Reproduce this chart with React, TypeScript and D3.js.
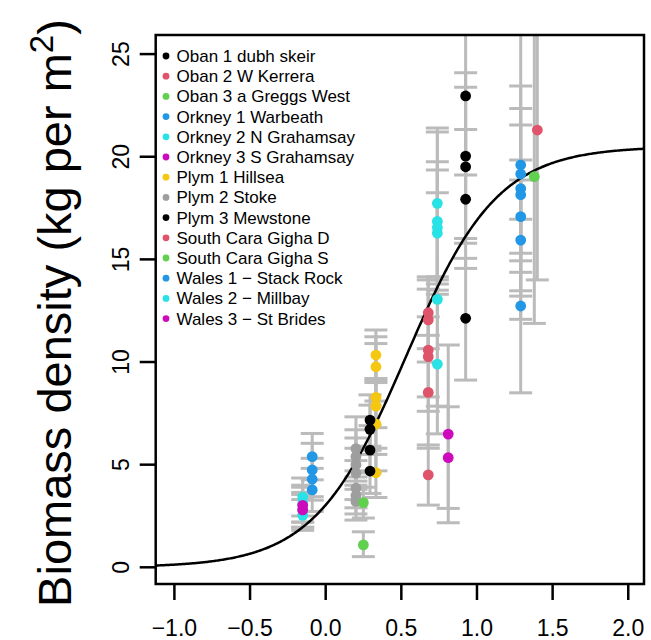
import React from 'react';
import * as d3 from 'd3';

const siteNames = [
  'Oban 1 dubh skeir', 'Oban 2 W Kerrera', 'Oban 3 a Greggs West',
  'Orkney 1 Warbeath', 'Orkney 2 N Grahamsay', 'Orkney 3 S Grahamsay',
  'Plym 1 Hillsea', 'Plym 2 Stoke', 'Plym 3 Mewstone',
  'South Cara Gigha D', 'South Cara Gigha S',
  'Wales 1 \u2212 Stack Rock', 'Wales 2 \u2212 Millbay', 'Wales 3 \u2212 St Brides',
];
const siteColors = [
  '#000000', '#DF536B', '#61D04F', '#2297E6', '#28E2E5', '#CD0BBC', '#F5C710',
  '#9E9E9E', '#000000', '#DF536B', '#61D04F', '#2297E6', '#28E2E5', '#CD0BBC',
];
const siteX = [0.925, 1.399, 1.379, -0.089, -0.152, -0.152, 0.332, 0.2, 0.293, 0.678, 0.249, 1.289, 0.738, 0.81];
const siteY = [
  [22.96, 20.03, 19.51, 17.93, 12.13],
  [21.3],
  [19.03],
  [5.39, 4.74, 4.29, 3.77],
  [3.42, 3.1, 2.8, 2.53],
  [3.02, 2.8],
  [10.34, 9.77, 8.28, 7.85, 6.98, 4.61],
  [5.78, 5.4, 5.0, 4.59, 3.86, 3.5, 3.21],
  [7.17, 6.72, 5.71, 4.69],
  [12.4, 12.05, 10.58, 10.26, 8.52, 4.5],
  [3.15, 1.09],
  [19.6, 19.16, 18.45, 18.15, 17.08, 15.94, 12.73],
  [17.73, 16.85, 16.55, 16.28, 13.05, 9.9],
  [6.49, 5.34],
];
const siteLo = [
  [19.11, 16.02, 15.78, 14.56, 9.12],
  [14.0],
  [11.88],
  [4.26, 3.44, 3.27, 2.72],
  [2.5, 2.2, 1.95, 1.8],
  [2.2, 1.95],
  [9.1, 8.1, 5.5, 6.8, 4.7, 3.4],
  [4.4, 4.2, 3.8, 3.3, 2.9, 2.6, 2.3],
  [5.9, 5.5, 4.6, 3.6],
  [10.65, 10.0, 7.6, 8.3, 5.8, 3.03],
  [2.4, 0.52],
  [13.21, 14.93, 14.37, 13.47, 15.3, 12.08, 8.5],
  [14.0, 13.8, 13.5, 14.15, 7.85, 6.5],
  [2.17, 2.87],
];
const siteHi = [
  [26.8, 24.09, 23.38, 21.33, 15.05],
  [28.6],
  [26.2],
  [6.52, 6.04, 5.31, 4.82],
  [4.35, 4.0, 3.65, 3.3],
  [3.9, 3.55],
  [11.56, 11.23, 10.9, 9.0, 9.2, 5.8],
  [7.33, 6.7, 6.3, 5.8, 5.2, 4.7, 4.0],
  [8.4, 7.9, 6.9, 5.7],
  [14.15, 14.0, 13.55, 12.2, 11.3, 5.96],
  [3.9, 1.73],
  [26.0, 23.44, 22.35, 21.54, 18.87, 19.84, 16.95],
  [21.4, 21.2, 19.75, 19.35, 18.25, 13.3],
  [10.83, 7.82],
];
const xTicks = [-1.0, -0.5, 0.0, 0.5, 1.0, 1.5, 2.0];
const yTicks = [0, 5, 10, 15, 20, 25];
// fitted logistic curve parameters
const curveL = 20.5;
const curveK = 3.3;
const curveX0 = 0.53;

const W = 651;
const H = 640;
const left = 155.7;
const right = 644;
const top = 35;
const bottom = 584;
const font = 'Liberation Sans, Arial, Helvetica, sans-serif';

export default function App() {
  const x = d3.scaleLinear().domain([-1.1236, 2.104]).range([left, right]);
  const y = d3.scaleLinear().domain([-0.813, 25.93]).range([bottom, top]);
  const curveXs = d3.range(0, 401).map((i) => -1.1236 + (i / 400) * (2.104 + 1.1236));
  const line = d3
    .line<number>()
    .x((d) => x(d))
    .y((d) => y(curveL / (1 + Math.exp(-curveK * (d - curveX0)))));
  const capW = 11.5;
  const fmt = (v: number) => v.toFixed(1).replace('-', '\u2212');
  return (
    <svg width={W} height={H} style={{ position: 'absolute', left: 0, top: 0, background: '#fff' }} fontFamily={font}>
      <defs>
        <clipPath id="plotclip">
          <rect x={left} y={top} width={right - left} height={bottom - top} />
        </clipPath>
      </defs>
      <rect x={0} y={0} width={W} height={H} fill="#fff" />
      <g clipPath="url(#plotclip)">
        {siteY.map((vals, s) =>
          vals.map((v, i) => {
            const cx = x(siteX[s]);
            const lo = y(siteLo[s][i]);
            const hi = y(siteHi[s][i]);
            return (
              <g key={`e${s}-${i}`} stroke="#BBBBBB" strokeWidth={3}>
                <line x1={cx} x2={cx} y1={lo} y2={hi} />
                <line x1={cx - capW} x2={cx + capW} y1={lo} y2={lo} />
                <line x1={cx - capW} x2={cx + capW} y1={hi} y2={hi} />
              </g>
            );
          })
        )}
        <path d={line(curveXs) || ''} fill="none" stroke="#000" strokeWidth={2.5} />
        {siteY.map((vals, s) =>
          vals.map((v, i) => (
            <circle key={`p${s}-${i}`} cx={x(siteX[s])} cy={y(v)} r={5.4} fill={siteColors[s]} />
          ))
        )}
      </g>
      <rect x={left} y={top} width={right - left} height={bottom - top} fill="none" stroke="#000" strokeWidth={2.5} />
      {xTicks.map((t) => (
        <g key={`xt${t}`}>
          <line x1={x(t)} x2={x(t)} y1={bottom} y2={bottom + 16} stroke="#000" strokeWidth={2.5} />
          <text x={x(t)} y={636} textAnchor="middle" fontSize={23}>
            {fmt(t)}
          </text>
        </g>
      ))}
      {yTicks.map((t) => (
        <g key={`yt${t}`}>
          <line x1={left} x2={left - 16} y1={y(t)} y2={y(t)} stroke="#000" strokeWidth={2.5} />
          <text
            transform={`translate(${129},${y(t)}) rotate(-90)`}
            textAnchor="middle"
            fontSize={23}
          >
            {String(t)}
          </text>
        </g>
      ))}
      <text transform={`translate(71,${313}) rotate(-90)`} textAnchor="middle" fontSize={47}>
        Biomass density (kg per m
        <tspan fontSize={33} dy={-18}>
          2
        </tspan>
        <tspan dy={18}>)</tspan>
      </text>
      {siteNames.map((n, i) => (
        <g key={`lg${i}`}>
          <circle cx={166} cy={56 + i * 20.2} r={3.4} fill={siteColors[i]} />
          <text x={176.5} y={56 + i * 20.2} dy="0.35em" fontSize={17}>
            {n}
          </text>
        </g>
      ))}
    </svg>
  );
}
